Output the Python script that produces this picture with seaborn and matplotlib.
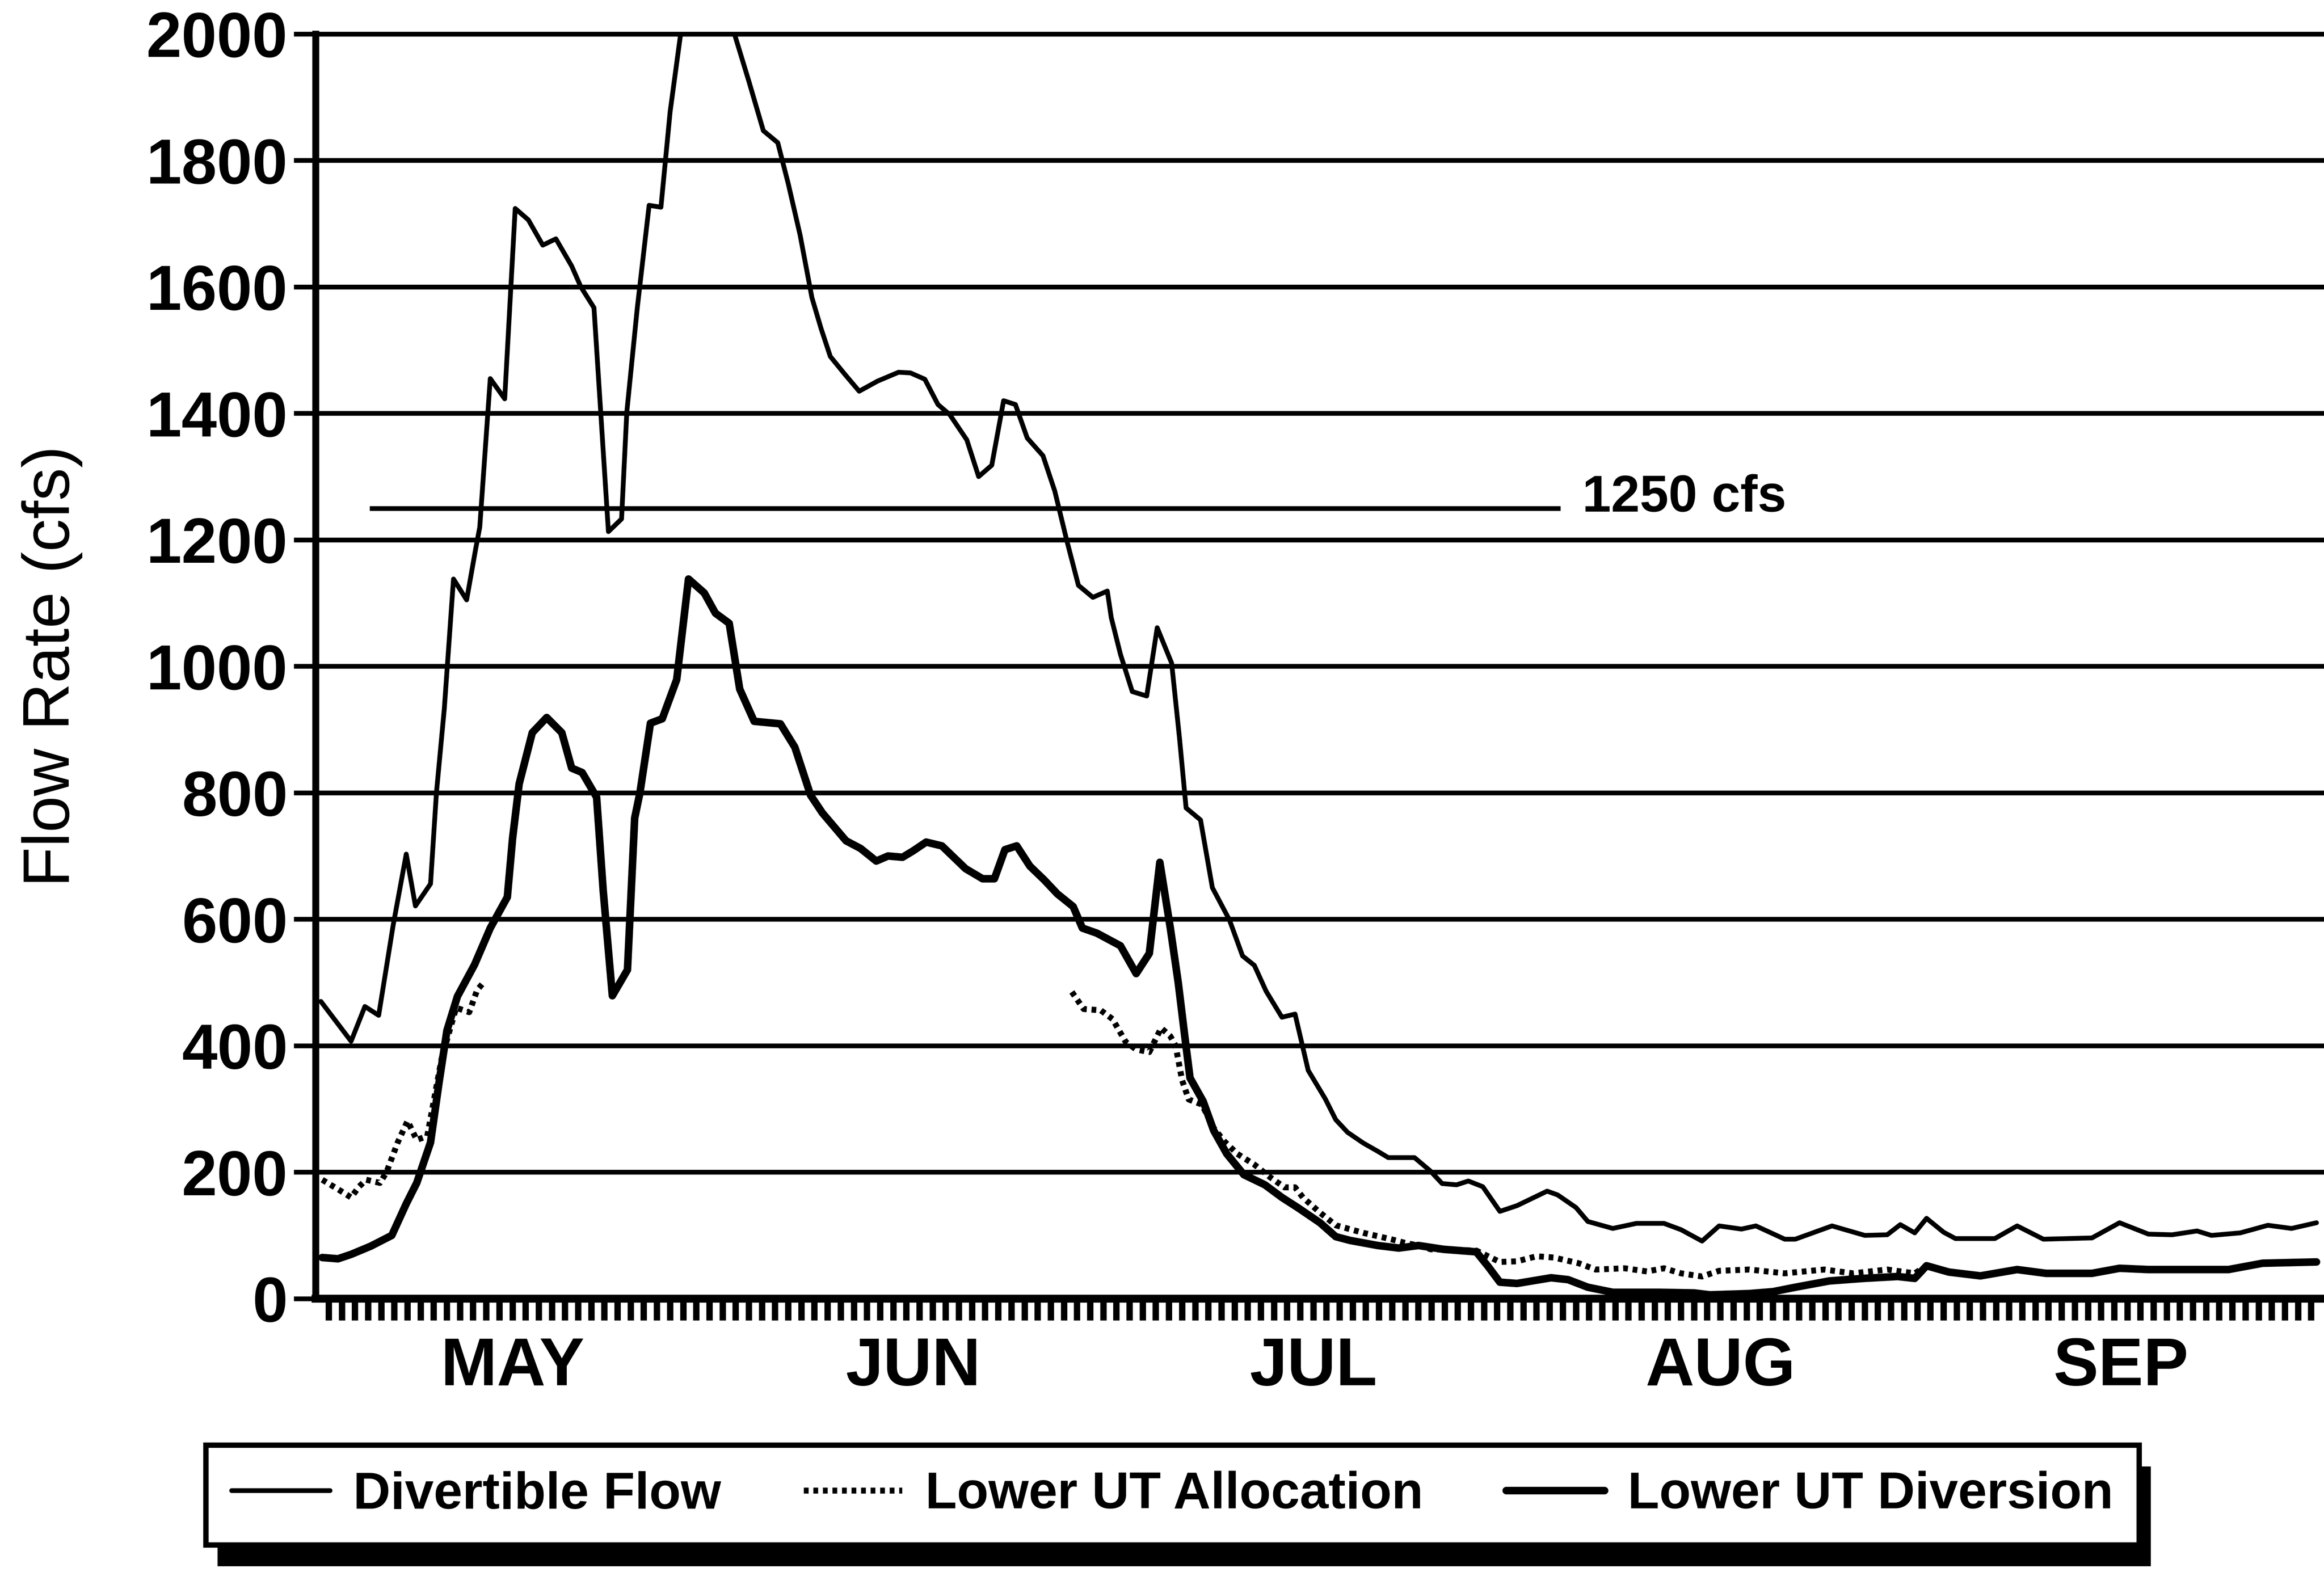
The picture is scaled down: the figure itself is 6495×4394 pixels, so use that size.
import numpy as np
import pandas as pd
import matplotlib
matplotlib.use("Agg")
import matplotlib.pyplot as plt
import seaborn as sns
from matplotlib.lines import Line2D
from matplotlib.patches import Rectangle

# days counted from May 1 (day 0) to the end of September, flows in cfs
divertible_day = [0.4, 2.7, 3.75, 4.8, 5.9, 6.9, 7.6, 8.75, 9.2, 9.8, 10.5, 11.5, 12.2, 12.5,
                  13.3, 14.4, 15.2, 16.2, 17.3, 18.3, 19.5, 20.2, 21.2, 22.3, 23.3, 23.7, 24.5,
                  25.4, 26.3, 27.0, 27.8, 31.9, 33.0, 34.1, 35.2, 36.0, 36.9, 37.8, 38.5, 39.2,
                  40.3, 41.4, 42.8, 44.4, 45.3, 46.4, 47.4, 48.3, 49.6, 50.5, 51.5, 52.4, 53.3,
                  54.2, 55.4, 56.3, 57.2, 58.1, 59.2, 60.3, 60.6, 61.3, 62.2, 63.3, 64.1, 65.2,
                  65.8, 66.3, 67.4, 68.3, 69.6, 70.6, 71.5, 72.4, 73.6, 74.6, 75.6, 76.9, 77.7,
                  78.6, 79.8, 80.9, 81.7, 83.7, 84.9, 85.8, 86.9, 87.8, 88.9, 90.2, 91.5, 93.8,
                  94.6, 96.0, 96.9, 98.8, 100.6, 102.7, 104.0, 105.6, 106.9, 108.6, 109.7, 111.9,
                  112.7, 115.5, 118.0, 119.7, 120.7, 121.8, 122.7, 124.0, 124.9, 127.9, 129.6,
                  131.6, 135.3, 137.4, 139.6, 141.4, 143.3, 144.4, 146.6, 148.7, 150.5, 152.4]
divertible_cfs = [470, 407, 462, 448, 590, 703, 621, 656, 800, 933, 1138, 1105, 1187, 1220,
                  1455, 1423, 1724, 1706, 1666, 1676, 1633, 1600, 1567, 1213, 1233, 1402, 1567,
                  1729, 1726, 1877, 2000, 2000, 1925, 1847, 1828, 1763, 1682, 1583, 1534, 1490,
                  1462, 1435, 1451, 1465, 1464, 1454, 1414, 1398, 1358, 1300, 1318, 1420, 1414,
                  1361, 1333, 1277, 1200, 1128, 1109, 1119, 1077, 1019, 960, 953, 1061, 1005,
                  886, 776, 757, 650, 599, 542, 527, 486, 445, 450, 361, 316, 283,
                  263, 246, 233, 223, 223, 202, 182, 180, 186, 177, 138, 147, 170,
                  164, 144, 122, 111, 119, 119, 109, 91, 115, 110, 115, 94,
                  94, 115, 100, 101, 117, 104, 127, 105, 95, 95, 115,
                  94, 96, 120, 102, 101, 107, 100, 104, 116, 111, 120]

diversion_day = [0.5, 1.7, 2.7, 4.2, 5.8, 6.9, 7.7, 8.75, 9.4, 10.0, 10.8, 12.1, 13.3, 14.6,
                 15.0, 15.5, 16.5, 17.6, 18.75, 19.5, 20.3, 21.4, 21.9, 22.6, 23.75, 24.3, 24.7,
                 25.5, 26.4, 27.5, 28.4, 29.6, 30.45, 31.5, 32.3, 33.4, 35.4, 36.5, 37.7, 38.6,
                 40.4, 41.5, 42.7, 43.6, 44.7, 45.5, 46.5, 47.7, 49.5, 50.8, 51.7, 52.5, 53.4,
                 54.4, 55.5, 56.5, 57.7, 58.4, 59.5, 61.3, 62.5, 63.5, 64.3, 65.1, 65.7, 66.2,
                 66.6, 67.6, 68.4, 69.4, 70.7, 72.3, 73.6, 74.8, 76.5, 77.7, 78.8, 80.9, 82.5,
                 84.0, 85.9, 88.4, 89.3, 90.2, 91.5, 94.1, 95.4, 96.9, 98.8, 102.3, 105.0, 106.2,
                 109.2, 111.0, 112.7, 115.3, 117.9, 120.5, 121.8, 122.7, 124.4, 126.8, 129.6,
                 131.8, 135.3, 137.4, 139.6, 145.7, 148.3, 152.4]
diversion_cfs = [65, 63, 70, 83, 100, 150, 183, 247, 342, 424, 478, 528, 586, 635,
                 728, 814, 895, 919, 895, 839, 832, 793, 646, 479, 520, 760, 800,
                 910, 917, 979, 1138, 1116, 1084, 1068, 964, 913, 909, 872, 796, 768,
                 724, 712, 692, 700, 698, 708, 722, 716, 680, 664, 664, 710, 716,
                 684, 662, 640, 620, 586, 578, 558, 514, 546, 690, 586, 500, 415,
                 349, 312, 266, 229, 196, 180, 160, 144, 120, 98, 92, 84, 80,
                 84, 78, 74, 51, 26, 24, 33, 30, 18, 10, 10, 9, 6,
                 8, 11, 18, 28, 32, 35, 32, 52, 42, 36, 46,
                 40, 40, 48, 46, 46, 56, 58]

allocation_day = [0.5, 1.7, 2.7, 3.3, 3.85, 4.9, 5.4, 6.25, 7.0, 7.7, 8.5, 9.6, 10.7, 11.7,
                  12.3, 12.75,
                  57.6, 58.5, 59.8, 60.7, 61.7, 62.5, 63.5, 64.4, 65.1, 65.5, 66.0, 66.5, 67.5,
                  68.4, 69.2, 70.2, 71.5, 72.7, 73.8, 74.6, 75.2, 76.5, 77.7, 79.8, 81.9, 83.0,
                  84.0, 84.95, 88.4, 89.2, 90.2, 91.5, 93.0, 94.3, 96.2, 97.5, 99.7, 101.4, 102.7,
                  104.0, 105.6, 106.9, 109.2, 111.9, 114.9, 117.1, 119.7, 121.8, 122.7, 124.4,
                  126.8, 129.6, 131.8, 135.3, 137.4, 139.6, 145.7, 148.3, 152.4]
allocation_cfs = [188, 173, 160, 177, 188, 183, 200, 247, 281, 251, 257, 380, 460, 453,
                  488, 499,
                  485, 458, 456, 442, 406, 394, 390, 428, 415, 400, 345, 315, 307,
                  270, 249, 229, 212, 192, 176, 176, 160, 136, 116, 104, 94, 88,
                  84, 78, 76, 68, 58, 59, 67, 65, 56, 46, 48, 43, 48,
                  40, 35, 44, 46, 40, 46, 40, 46, 40, 52, 42,
                  36, 46, 40, 40, 48, 46, 46, 56, 58]
allocation_part = [1] * 16 + [2] * 59

threshold_cfs = 1250
threshold_days = [4.1, 94.8]

month_labels = ["MAY", "JUN", "JUL", "AUG", "SEP"]
month_mid_day = [15, 45.5, 76, 107, 137.5]
y_ticks = list(range(0, 2001, 200))

series_labels = ["Divertible Flow", "Lower UT Allocation", "Lower UT Diversion"]

sns.set_theme(style="white", rc={"axes.edgecolor": "black", "xtick.color": "black",
                                 "ytick.color": "black", "text.color": "black",
                                 "axes.labelcolor": "black",
                                 "xtick.bottom": True, "ytick.left": True})
plt.rcParams["font.family"] = ["Liberation Sans", "DejaVu Sans"]

W, H, DPI = 6496, 4394, 400
fig = plt.figure(figsize=(W / DPI, H / DPI), dpi=DPI)
ax = fig.add_axes([0.1358, 0.1739, 0.8642, 0.8045])

dotted = (0, (0.8, 0.8))
lw_thin, lw_thick, lw_dot = 2.4, 3.8, 3.0

div_df = pd.DataFrame({"day": divertible_day, "cfs": divertible_cfs})
dvs_df = pd.DataFrame({"day": diversion_day, "cfs": diversion_cfs})
alc_df = pd.DataFrame({"day": allocation_day, "cfs": allocation_cfs, "part": allocation_part})

sns.lineplot(data=div_df, x="day", y="cfs", ax=ax, color="black", lw=lw_thin,
             estimator=None, zorder=4)
sns.lineplot(data=alc_df, x="day", y="cfs", units="part", ax=ax, color="black",
             lw=lw_dot, ls=dotted, estimator=None, zorder=4)
sns.lineplot(data=dvs_df, x="day", y="cfs", ax=ax, color="black", lw=lw_thick,
             estimator=None, zorder=5)

# 1250 cfs reference line
ax.hlines(threshold_cfs, threshold_days[0], threshold_days[1], color="black", lw=lw_thin, zorder=3)
ax.annotate(f"{threshold_cfs} cfs", xy=(threshold_days[1], threshold_cfs), xytext=(11, 5),
            textcoords="offset points", va="center", ha="left", fontsize=26, fontweight="bold")

ax.set_xlim(0, 153)
ax.set_ylim(0, 2000)

ax.set_yticks(y_ticks)
ax.set_yticklabels([str(v) for v in y_ticks], fontweight="bold")
ax.tick_params(axis="y", left=True, direction="out", length=11, width=2.4, pad=3, labelsize=32)

# a tick for every day, month names centred under each month
ax.xaxis.remove_overlapping_locs = False
ax.set_xticks(np.arange(1, 153))
ax.set_xticklabels([])
ax.set_xticks(month_mid_day, labels=month_labels, minor=True)
ax.tick_params(axis="x", which="major", bottom=True, direction="out", length=11, width=3.2)
ax.tick_params(axis="x", which="minor", bottom=True, length=0, pad=19, labelsize=34)
for t in ax.get_xticklabels(minor=True):
    t.set_fontweight("bold")

ax.grid(axis="y", color="black", lw=lw_thin)
ax.grid(axis="x", visible=False)
ax.spines["right"].set_visible(False)
ax.spines["top"].set_linewidth(lw_thin)
ax.spines["left"].set_linewidth(3.5)
ax.spines["bottom"].set_linewidth(4.0)

ax.set_xlabel("")
ax.set_ylabel("Flow Rate (cfs)", fontsize=33)
ax.yaxis.set_label_coords(-0.116, 0.5)

handles = [Line2D([], [], color="black", lw=lw_thin),
           Line2D([], [], color="black", lw=lw_dot, ls=dotted),
           Line2D([], [], color="black", lw=lw_thick)]
leg = fig.legend(handles, series_labels, loc="center",
                 bbox_to_anchor=(575 / W, 0.0, 5403 / W, 0.098), mode="expand", ncol=3,
                 frameon=True, fancybox=False, edgecolor="black", facecolor="white",
                 framealpha=1, borderpad=0.5, borderaxespad=0, handlelength=1.9,
                 handletextpad=0.45, prop={"weight": "bold", "size": 26})
leg.get_frame().set_linewidth(2.7)

# solid drop shadow under the legend box
fig.canvas.draw()
bb = leg.get_frame().get_window_extent().transformed(fig.transFigure.inverted())
shadow = Rectangle((bb.x0 + 33 / W, bb.y0 - 60 / H), bb.width, bb.height,
                   transform=fig.transFigure, facecolor="black", edgecolor="none",
                   zorder=leg.get_zorder() - 1)
fig.add_artist(shadow)

fig.savefig("out.png", dpi=DPI)
